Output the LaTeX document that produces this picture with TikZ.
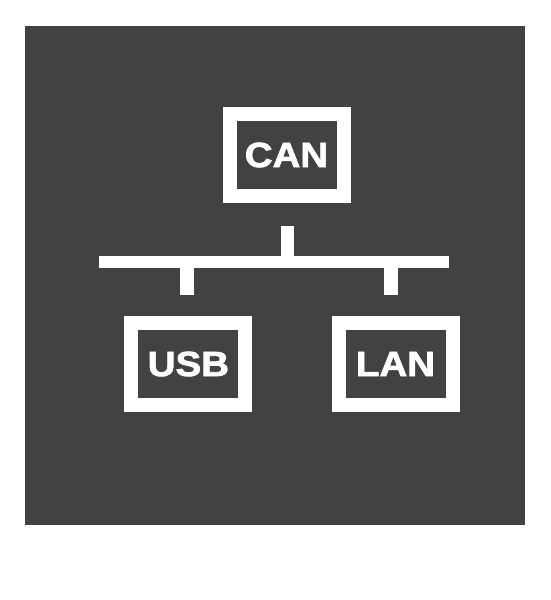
\documentclass[tikz,border=0pt]{standalone}
\usepackage{fontspec}
\newfontfamily\lblfont[FakeStretch=1.1,BoldFeatures={FakeBold=2}]{Liberation Sans}
\definecolor{panel}{RGB}{67,66,64}
\begin{document}
\begin{tikzpicture}[x=1pt,y=-1pt,
  devbox/.style={draw=white,line width=14pt,minimum width=114pt,minimum height=82pt,inner sep=0pt,
    text=white,font=\lblfont\bfseries\fontsize{35}{35}\selectfont},
  wire/.style={draw=white,line cap=butt}]
\useasboundingbox (0,0) rectangle (550,600);
\fill[white] (0,0) rectangle (550,600);
\fill[panel] (25,26) rectangle (525,525);
\node[devbox] (can) at (286.5,155) {CAN};
\node[devbox] (usb) at (188.4,364) {USB};
\node[devbox] (lan) at (395.5,364) {LAN};
\coordinate (busL) at (99,262);
\coordinate (busR) at (449,262);
\coordinate (upTop) at (287.5,225.7);
\coordinate (upBot) at (287.5,262);
\coordinate (lTop) at (186.7,262);
\coordinate (lBot) at (186.7,295);
\coordinate (rTop) at (391,262);
\coordinate (rBot) at (391,295);
\draw[wire,line width=12.3pt] (busL) -- (busR);
\draw[wire,line width=13pt] (upTop) -- (upBot);
\draw[wire,line width=14pt] (lTop) -- (lBot);
\draw[wire,line width=13.4pt] (rTop) -- (rBot);
\end{tikzpicture}
\end{document}
